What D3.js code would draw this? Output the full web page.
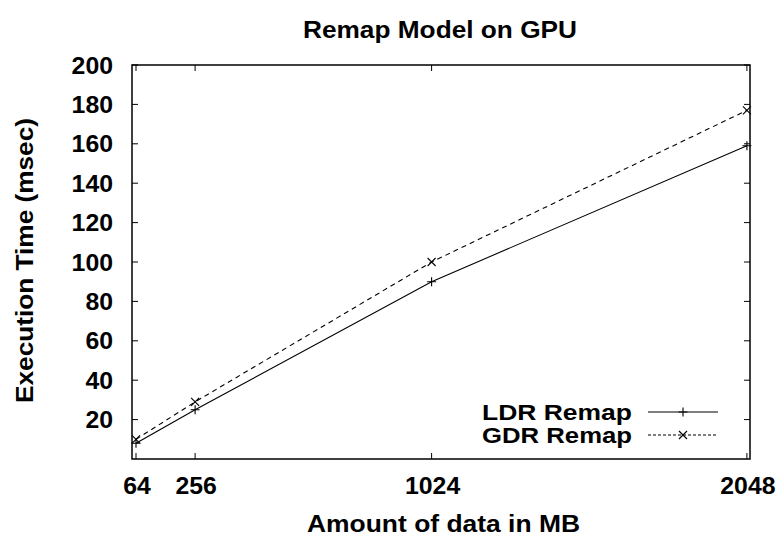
<!DOCTYPE html>
<html><head><meta charset="utf-8">
<script src="https://cdn.jsdelivr.net/npm/d3@7"></script>
<style>body{margin:0;background:#fff}text{font-family:"Liberation Sans",Arial,sans-serif;font-weight:bold;fill:#000}</style>
</head><body><svg id="c" width="784" height="537"></svg>
<script>
const xValues = [64, 256, 1024, 2048];
const ldrValues = [8, 25, 90, 159];
const gdrValues = [10, 29, 100, 177];
const yTicks = [20, 40, 60, 80, 100, 120, 140, 160, 180, 200];
const seriesNames = ["LDR Remap", "GDR Remap"];

const svg = d3.select("#c");
const L = 132, R = 750, T = 65, B = 459;
const x = d3.scaleLinear().domain([51, 2058]).range([L, R]);
const y = d3.scaleLinear().domain([0, 200]).range([B, T]);

function txt(g, s, fs, len) {
  return g.append("text").attr("font-size", fs).attr("textLength", len).attr("lengthAdjust", "spacingAndGlyphs").text(s);
}

// frame
svg.append("rect").attr("x", L).attr("y", T).attr("width", R - L).attr("height", B - T)
  .attr("fill", "none").attr("stroke", "#000").attr("stroke-width", 1.5);

const tl = 6;
const ax = svg.append("g");
yTicks.forEach(v => {
  const yy = y(v);
  ax.append("line").attr("x1", L).attr("x2", L + tl).attr("y1", yy).attr("y2", yy).attr("stroke", "#000");
  ax.append("line").attr("x1", R).attr("x2", R - tl).attr("y1", yy).attr("y2", yy).attr("stroke", "#000");
  const w = String(v).length * 13.8;
  txt(ax, v, 23.5, w).attr("x", 113 - w).attr("y", yy + 8.5);
});
xValues.forEach(v => {
  const xx = x(v);
  ax.append("line").attr("x1", xx).attr("x2", xx).attr("y1", B).attr("y2", B - tl).attr("stroke", "#000");
  ax.append("line").attr("x1", xx).attr("x2", xx).attr("y1", T).attr("y2", T + tl).attr("stroke", "#000");
  const w = String(v).length * 13.8;
  txt(ax, v, 23.5, w).attr("x", xx + 1 - w / 2).attr("y", 494);
});

txt(svg, "Remap Model on GPU", 23.5, 274).attr("x", 440 - 137).attr("y", 38);
txt(svg, "Amount of data in MB", 24, 273).attr("x", 443.5 - 136.5).attr("y", 532);
txt(svg, "Execution Time (msec)", 24, 285).attr("transform", "translate(33,403) rotate(-90)").attr("x", 0).attr("y", 0);

const line = d3.line().x(d => x(d[0])).y(d => y(d[1]));
const ldr = xValues.map((v, i) => [v, ldrValues[i]]);
const gdr = xValues.map((v, i) => [v, gdrValues[i]]);

function plus(g, cx, cy) {
  const s = 4.5;
  g.append("path").attr("d", `M${cx - s},${cy}H${cx + s}M${cx},${cy - s}V${cy + s}`).attr("stroke", "#000").attr("stroke-width", 1.1);
}
function cross(g, cx, cy) {
  const s = 4;
  g.append("path").attr("d", `M${cx - s},${cy - s}L${cx + s},${cy + s}M${cx - s},${cy + s}L${cx + s},${cy - s}`).attr("stroke", "#000").attr("stroke-width", 1.1);
}

const g = svg.append("g");
g.append("path").datum(ldr).attr("d", line).attr("fill", "none").attr("stroke", "#000").attr("stroke-width", 1.1);
g.append("path").datum(gdr).attr("d", line).attr("fill", "none").attr("stroke", "#000").attr("stroke-width", 1.1).attr("stroke-dasharray", "5,4");
ldr.forEach(d => plus(g, x(d[0]), y(d[1])));
gdr.forEach(d => cross(g, x(d[0]), y(d[1])));

// legend
const lg = svg.append("g");
const ly = [412, 435];
seriesNames.forEach((n, i) => {
  txt(lg, n, 22.5, 150).attr("x", 632 - 150).attr("y", ly[i] + 8);
  const l = lg.append("line").attr("x1", 648).attr("x2", 718).attr("y1", ly[i]).attr("y2", ly[i]).attr("stroke", "#000").attr("stroke-width", 1.1);
  if (i === 1) { l.attr("stroke-dasharray", "3,2"); cross(lg, 683, ly[i]); } else plus(lg, 683, ly[i]);
});
</script></body></html>
